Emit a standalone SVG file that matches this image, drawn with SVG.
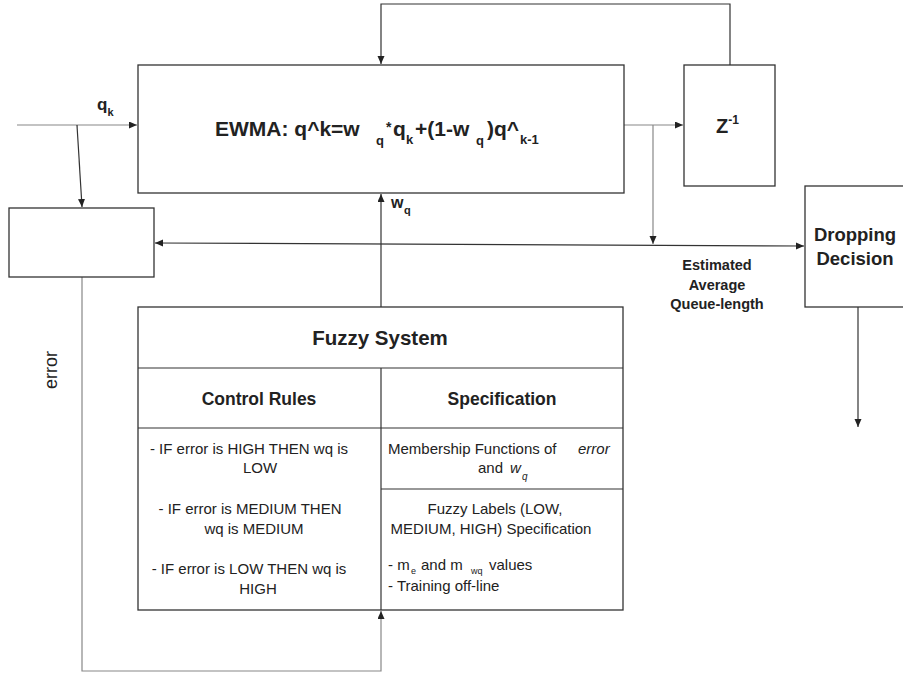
<svg xmlns="http://www.w3.org/2000/svg" width="903" height="673" viewBox="0 0 903 673">
<defs>
<marker id="arr" markerUnits="userSpaceOnUse" markerWidth="9" markerHeight="8" refX="8" refY="3.5" orient="auto-start-reverse"><path d="M0,0 L8,3.5 L0,7 z" fill="#222"/></marker>
</defs>
<style>
.box{fill:#fff;stroke:#333;stroke-width:1.3}
.ln{fill:none;stroke:#333;stroke-width:1.2}
.gl{fill:none;stroke:#888;stroke-width:1.2}
text{font-family:"Liberation Sans",Arial,sans-serif;fill:#222}
.b{font-weight:bold}
.t{font-size:15px}
</style>
<rect width="903" height="673" fill="#fff"/>
<g id="connectors">
<line class="gl" x1="17" y1="125" x2="137" y2="125" marker-end="url(#arr)"/>
<line class="ln" x1="77" y1="125" x2="82" y2="207" marker-end="url(#arr)"/>
<line class="gl" x1="624" y1="125" x2="683" y2="125" marker-end="url(#arr)"/>
<line class="gl" x1="653" y1="125" x2="653" y2="244" marker-end="url(#arr)"/>
<line class="ln" x1="155" y1="243" x2="804" y2="246" marker-start="url(#arr)" marker-end="url(#arr)"/>
<polyline class="ln" points="730,65 730,4 381,4 381,64" marker-end="url(#arr)"/>
<line class="ln" x1="381" y1="307" x2="381" y2="194" marker-end="url(#arr)"/>
<polyline class="gl" points="82,277 82,671 381,671 381,611" marker-end="url(#arr)"/>
<line class="ln" x1="858" y1="307" x2="858" y2="427" marker-end="url(#arr)"/>
</g>
<g id="ewma">
<rect class="box" x="138" y="65" width="486" height="128"/>
<text class="b" font-size="21"><tspan x="215" y="136">EWMA: q^k=w</tspan><tspan x="376" y="145" font-size="13">q</tspan><tspan x="386" y="132" font-size="14">*</tspan><tspan x="393" y="136">q</tspan><tspan x="406" y="144" font-size="13">k</tspan><tspan x="415" y="136">+(1-w</tspan><tspan x="476" y="145" font-size="13">q</tspan><tspan x="487" y="136">)q^</tspan><tspan x="520" y="144" font-size="13">k-1</tspan></text>
</g>
<g id="z">
<rect class="box" x="684" y="65" width="91" height="121"/>
<text class="b" font-size="20" x="716" y="133">Z<tspan font-size="12" y="124">-1</tspan></text>
</g>
<g id="qk-label">
<text class="b" font-size="17" x="97" y="110">q<tspan font-size="11" y="116">k</tspan></text>
</g>
<g id="wq-label">
<text class="b" font-size="16" x="391" y="208">w<tspan font-size="11" x="404" y="214">q</tspan></text>
</g>
<g id="error-box">
<rect class="box" x="9" y="208" width="145" height="69"/>
</g>
<g id="error-label">
<text font-size="18" transform="translate(57,370) rotate(-90)" text-anchor="middle">error</text>
</g>
<g id="dropping">
<rect class="box" x="805" y="186" width="110" height="121"/>
<text class="b" font-size="18.5" text-anchor="middle"><tspan x="855" y="241">Dropping</tspan><tspan x="855" y="265">Decision</tspan></text>
</g>
<g id="eaql-label">
<text class="b" font-size="14.5" text-anchor="middle"><tspan x="717" y="270">Estimated</tspan><tspan x="717" y="290">Average</tspan><tspan x="717" y="309">Queue-length</tspan></text>
</g>
<g id="fuzzy">
<rect class="box" x="138" y="307" width="485" height="303"/>
<line class="ln" x1="138" y1="368" x2="623" y2="368"/>
<line class="ln" x1="138" y1="428" x2="623" y2="428"/>
<line class="ln" x1="381" y1="368" x2="381" y2="610"/>
<line class="ln" x1="381" y1="489" x2="623" y2="489"/>
<text class="b" font-size="20.5" x="380" y="345" text-anchor="middle">Fuzzy System</text>
<text class="b" font-size="17.5" x="259" y="405" text-anchor="middle">Control Rules</text>
<text class="b" font-size="17.5" x="502" y="405" text-anchor="middle">Specification</text>
<text class="t" text-anchor="middle"><tspan x="249" y="454">- IF error is HIGH THEN wq is</tspan><tspan x="260" y="473">LOW</tspan><tspan x="250" y="514">- IF error is MEDIUM THEN</tspan><tspan x="254" y="534">wq is MEDIUM</tspan><tspan x="249" y="574">- IF error is LOW THEN wq is</tspan><tspan x="258" y="594">HIGH</tspan></text>
<text class="t" x="388" y="454">Membership Functions of</text>
<text class="t" x="578" y="454" font-style="italic">error</text>
<text class="t" x="478" y="473">and</text>
<text class="t" x="510" y="473" font-style="italic">w<tspan font-size="10" x="522" y="480">q</tspan></text>
<text class="t" text-anchor="middle"><tspan x="495" y="514">Fuzzy  Labels (LOW,</tspan><tspan x="491" y="534">MEDIUM, HIGH) Specification</tspan></text>
<text class="t" x="388" y="570">- m<tspan font-size="9" x="411" y="574">e</tspan><tspan x="421" y="570">and m</tspan><tspan font-size="9" x="471" y="574">wq</tspan><tspan x="489" y="570">values</tspan></text>
<text class="t" x="388" y="591">- Training off-line</text>
</g>
</svg>
